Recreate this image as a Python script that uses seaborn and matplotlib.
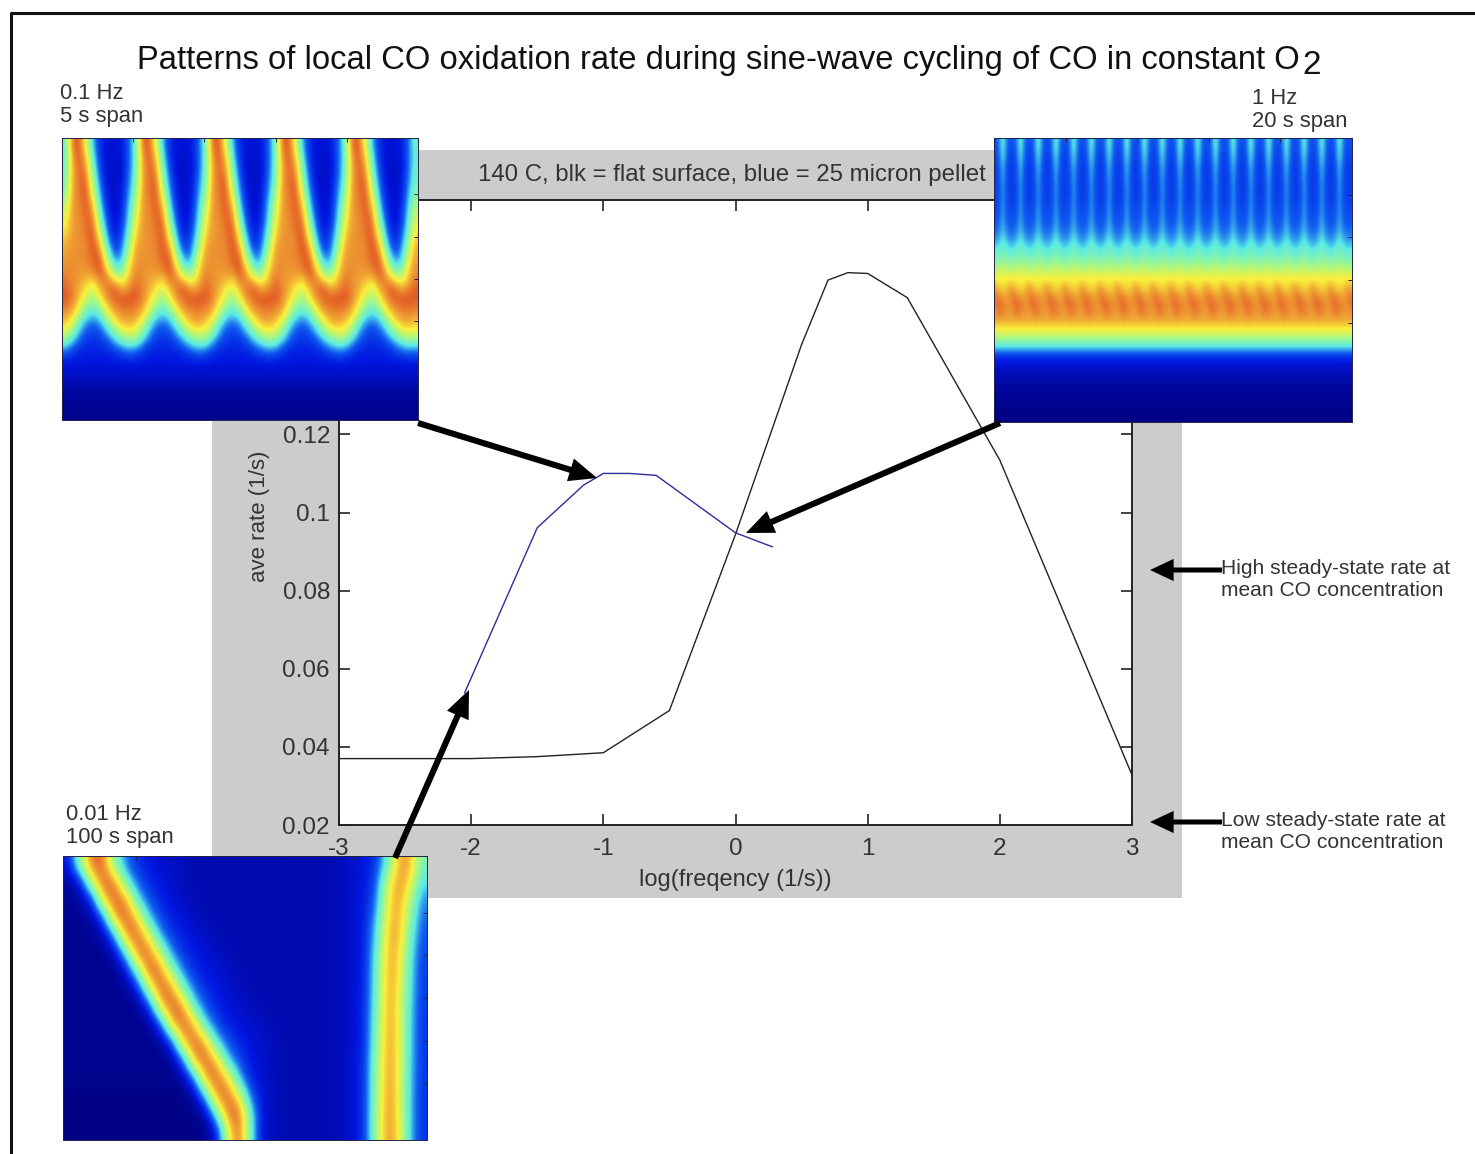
import numpy as np
import matplotlib
matplotlib.use("Agg")
import matplotlib.pyplot as plt
from matplotlib.colors import LinearSegmentedColormap
from matplotlib.patches import Rectangle
import seaborn as sns

flat_x = [-3, -2, -1.5, -1, -0.5, 0, 0.5, 0.7, 0.85, 1, 1.3, 2, 3]
flat_y = [.037, .037, .0375, .0385, .0493, .0944, .143, .1595, .1614, .1612, .155, .1134, .0328]
pellet_x = [-2.05, -1.5, -1.15, -1, -0.8, -0.6, 0, 0.28]
pellet_y = [.0538, .0961, .107, .110, .110, .1095, .0948, .0912]
x_ticks = [-3, -2, -1, 0, 1, 2, 3]
y_ticks = [.02, .04, .06, .08, .1, .12, .14, .16, .18]
y_tick_labels = ['0.02', '0.04', '0.06', '0.08', '0.1', '0.12', '0.14', '0.16', '0.18']

# one cycle of the 0.1 Hz pattern (rows top to bottom)
cycle_01hz = [
    [40, 82, 84, 60, 28, 14, 10, 10, 11, 20],
    [38, 76, 84, 72, 35, 15, 9, 9, 10, 20],
    [40, 74, 82, 78, 42, 18, 9, 8, 9, 20],
    [42, 75, 81, 84, 50, 22, 10, 8, 10, 23],
    [48, 76, 79, 85, 62, 27, 12, 8, 11, 26],
    [55, 76, 78, 84, 74, 35, 15, 8, 12, 30],
    [62, 76, 77, 82, 82, 45, 19, 9, 14, 33],
    [68, 76, 77, 80, 85, 60, 26, 11, 18, 40],
    [74, 77, 77, 78, 85, 75, 38, 16, 22, 48],
    [76, 77, 77, 78, 82, 85, 55, 28, 28, 60],
    [78, 77, 76, 76, 78, 85, 75, 50, 45, 68],
    [82, 78, 74, 68, 62, 76, 80, 84, 70, 74],
    [84, 80, 70, 58, 50, 65, 78, 82, 85, 85],
    [78, 74, 60, 42, 36, 45, 65, 76, 78, 79],
    [70, 60, 38, 25, 22, 26, 42, 60, 72, 74],
    [55, 40, 25, 18, 16, 18, 24, 36, 48, 55],
    [25, 18, 14, 13, 13, 13, 14, 17, 22, 26],
    [11, 11, 11, 11, 11, 11, 11, 11, 11, 11],
    [8, 8, 8, 8, 8, 8, 8, 8, 8, 8],
    [5, 5, 5, 5, 5, 5, 5, 5, 5, 5],
    [3, 3, 3, 3, 3, 3, 3, 3, 3, 3],
    [2, 2, 2, 2, 2, 2, 2, 2, 2, 2],
]

# one cycle of the 1 Hz pattern
cycle_1hz = [
    [20, 26, 38, 26, 20],
    [18, 24, 34, 24, 18],
    [17, 22, 30, 22, 17],
    [17, 21, 28, 21, 17],
    [17, 20, 27, 21, 17],
    [18, 21, 27, 21, 18],
    [20, 22, 28, 22, 20],
    [22, 24, 30, 24, 22],
    [26, 30, 35, 30, 26],
    [36, 39, 40, 39, 36],
    [46, 47, 47, 47, 46],
    [60, 62, 64, 62, 60],
    [72, 68, 66, 68, 74],
    [82, 80, 78, 76, 78],
    [78, 82, 80, 78, 76],
    [74, 74, 74, 74, 74],
    [60, 60, 60, 60, 60],
    [38, 38, 38, 38, 38],
    [13, 13, 13, 13, 13],
    [8, 8, 8, 8, 8],
    [5, 5, 5, 5, 5],
    [3, 3, 3, 3, 3],
    [2, 2, 2, 2, 2],
    [1, 1, 1, 1, 1],
]

# the 0.01 Hz pattern
grid_001hz = [
    [10, 50, 82, 83, 46, 24, 15, 11, 9, 8, 7, 6, 6, 6, 6, 6, 6, 6, 6, 6, 6, 6, 6, 6, 7, 9, 11, 15, 38, 74, 76, 42],
    [4, 9, 58, 84, 82, 42, 22, 14, 11, 9, 7, 6, 6, 6, 6, 6, 6, 6, 6, 6, 6, 6, 6, 6, 7, 9, 11, 19, 56, 78, 68, 34],
    [3, 4, 11, 68, 84, 80, 36, 21, 13, 10, 8, 6, 6, 6, 6, 6, 6, 6, 6, 6, 6, 6, 6, 6, 7, 9, 12, 22, 62, 78, 55, 26],
    [2, 3, 4, 18, 75, 84, 72, 32, 19, 12, 10, 8, 6, 6, 6, 6, 6, 6, 6, 6, 6, 6, 6, 6, 7, 9, 12, 28, 66, 76, 48, 22],
    [2, 2, 3, 4, 25, 78, 84, 64, 29, 17, 12, 10, 8, 6, 6, 6, 6, 6, 6, 6, 6, 6, 6, 6, 7, 9, 13, 32, 70, 76, 42, 20],
    [2, 2, 2, 3, 5, 33, 80, 84, 58, 27, 16, 11, 10, 8, 6, 6, 6, 6, 6, 6, 6, 6, 6, 6, 7, 9, 13, 36, 72, 72, 38, 18],
    [2, 2, 2, 2, 3, 7, 42, 82, 84, 50, 25, 15, 11, 10, 8, 6, 6, 6, 6, 6, 6, 6, 6, 6, 7, 9, 13, 38, 74, 70, 36, 17],
    [2, 2, 2, 2, 2, 3, 8, 53, 83, 82, 45, 23, 14, 11, 9, 7, 6, 6, 6, 6, 6, 6, 6, 6, 7, 9, 13, 39, 74, 68, 35, 17],
    [2, 2, 2, 2, 2, 2, 3, 10, 65, 84, 81, 38, 21, 13, 10, 9, 7, 6, 6, 6, 6, 6, 6, 6, 7, 9, 14, 40, 75, 66, 34, 16],
    [2, 2, 2, 2, 2, 2, 2, 3, 13, 70, 84, 76, 34, 20, 12, 10, 9, 7, 6, 6, 6, 6, 6, 6, 7, 9, 14, 42, 76, 66, 33, 16],
    [2, 2, 2, 2, 2, 2, 2, 2, 3, 13, 70, 84, 76, 34, 20, 13, 10, 9, 7, 6, 6, 6, 6, 6, 7, 9, 14, 44, 76, 66, 33, 16],
    [2, 2, 2, 2, 2, 2, 2, 2, 2, 3, 18, 75, 84, 72, 32, 19, 11, 9, 7, 6, 6, 6, 6, 6, 7, 10, 15, 46, 77, 66, 33, 16],
    [2, 2, 2, 2, 2, 2, 2, 2, 2, 2, 3, 22, 77, 84, 68, 30, 13, 9, 7, 6, 6, 6, 6, 6, 7, 10, 15, 48, 77, 66, 32, 16],
    [1, 1, 1, 1, 1, 1, 1, 1, 1, 1, 2, 3, 30, 80, 84, 62, 22, 10, 7, 6, 6, 6, 6, 6, 7, 10, 15, 48, 78, 66, 32, 15],
    [1, 1, 1, 1, 1, 1, 1, 1, 1, 1, 1, 2, 3, 40, 82, 85, 38, 10, 7, 6, 6, 6, 6, 6, 7, 10, 15, 50, 78, 66, 32, 15],
    [1, 1, 1, 1, 1, 1, 1, 1, 1, 1, 1, 1, 2, 8, 60, 85, 40, 9, 7, 6, 6, 6, 6, 6, 7, 10, 15, 50, 78, 68, 32, 15],
]

# faded jet colours of the scanned insets
ramp_stops = [0, .11, .22, .35, .50, .65, .78, .85, 1]
ramp_colors = ['#00007f', '#0016e0', '#0f5cf0', '#5aebe6', '#a0f88c', '#faf03c', '#ec8a30', '#e04a20', '#960a0a']

W, H = 1475, 1154
sns.set_theme(style='white', rc={'axes.edgecolor': '#222222', 'axes.linewidth': 1.4})
plt.rcParams['font.family'] = ['Liberation Sans', 'DejaVu Sans']
TXT = '#333333'
faded_jet = LinearSegmentedColormap.from_list('faded_jet', list(zip(ramp_stops, ramp_colors)))

fig = plt.figure(figsize=(W / 100, H / 100), dpi=100, facecolor='white')


def box(l, t, r, b, **kw):
    return fig.add_axes([l / W, 1 - b / H, (r - l) / W, (b - t) / H], **kw)


bg = box(0, 0, W, H, zorder=0)
bg.set_xlim(0, W)
bg.set_ylim(H, 0)
bg.axis('off')
bg.add_patch(Rectangle((212, 150), 970, 748, fc='#cccccc', ec='none'))
bg.plot([11, 11, W], [H, 13, 13], color='#111111', lw=2.2)

ax = box(339, 200, 1132, 825, zorder=1)
sns.lineplot(x=flat_x, y=flat_y, color='#222222', lw=1.0, sort=False, errorbar=None, ax=ax)
sns.lineplot(x=pellet_x, y=pellet_y, color='#2c2c9c', lw=1.0, sort=False, errorbar=None, ax=ax)
ax.set_xlim(-3, 3)
ax.set_ylim(.02, .18)
ax.set_xticks(x_ticks)
ax.set_xticklabels([str(v) for v in x_ticks])
ax.set_yticks(y_ticks)
ax.set_yticklabels(y_tick_labels)
ax.tick_params(which='both', direction='in', length=8, width=1.2, color='#222222', top=True, right=True,
               bottom=True, left=True, labelsize=17.5, labelcolor=TXT, pad=6.5)
ax.tick_params(axis='x', pad=9.5)
ax.set_xlabel('log(freqency (1/s))', fontsize=17, color=TXT, labelpad=6.5)
ax.set_ylabel('ave rate (1/s)', fontsize=16, color=TXT)
ax.yaxis.set_label_coords(-0.087, 0.494)


def inset(l, t, r, b, grid):
    a = box(l, t, r, b, zorder=2)
    a.imshow(grid, cmap=faded_jet, vmin=0, vmax=100, aspect='auto', interpolation='bicubic',
             interpolation_stage='data', extent=(0, 1, 0, 1))
    a.set_xticks([.2, .4, .6, .8])
    a.set_yticks([.2, .35, .5, .65, .8])
    a.set_xticklabels([])
    a.set_yticklabels([])
    a.tick_params(direction='in', length=3, width=.7, color='#222244', top=True, right=True)
    for s in a.spines.values():
        s.set_linewidth(.7)
        s.set_color('#222244')
    return a


c1 = np.array(cycle_01hz)
c2 = np.array(cycle_1hz)
inset(62, 138, 418, 420, np.hstack([np.tile(c1, (1, 5)), c1[:, :1]]))
inset(994, 138, 1352, 422, np.hstack([np.tile(c2, (1, 20)), c2[:, :1]]))
inset(63, 856, 427, 1140, np.array(grid_001hz))

ov = box(0, 0, W, H, zorder=3)
ov.set_xlim(0, W)
ov.set_ylim(H, 0)
ov.axis('off')
ov.patch.set_alpha(0)


def txt(x, y, s, size, **kw):
    kw.setdefault('color', TXT)
    kw.setdefault('va', 'center')
    ov.text(x, y, s, fontsize=size, **kw)


txt(137, 60, 'Patterns of local CO oxidation rate during sine-wave cycling of CO in constant O', 23.6, color='#111111')
txt(1302, 66, '2', 24, color='#111111')
txt(60, 105, '0.1 Hz\n5 s span', 15.8, linespacing=1.15)
txt(1252, 110, '1 Hz\n20 s span', 15.8, linespacing=1.15)
txt(66, 826, '0.01 Hz\n100 s span', 15.8, linespacing=1.15)
txt(478, 175, '140 C, blk = flat surface, blue = 25 micron pellet', 17.3)
txt(1221, 580, 'High steady-state rate at\nmean CO concentration', 15.1, linespacing=1.2)
txt(1221, 832, 'Low steady-state rate at\nmean CO concentration', 15.1, linespacing=1.2)

big = 'simple,head_length=20,head_width=17,tail_width=4.4'
small = 'simple,head_length=17,head_width=16,tail_width=3.6'
for start, end, style in [((418, 423), (597, 478), big), ((1000, 423), (746, 533), big),
                          ((395, 858), (469, 690), big), ((1222, 570), (1150, 570), small),
                          ((1222, 822), (1150, 822), small)]:
    ov.annotate('', xy=end, xytext=start,
                arrowprops=dict(arrowstyle=style, lw=0, color='black', shrinkA=0, shrinkB=0, mutation_scale=1))

fig.savefig('out.png', dpi=100)
